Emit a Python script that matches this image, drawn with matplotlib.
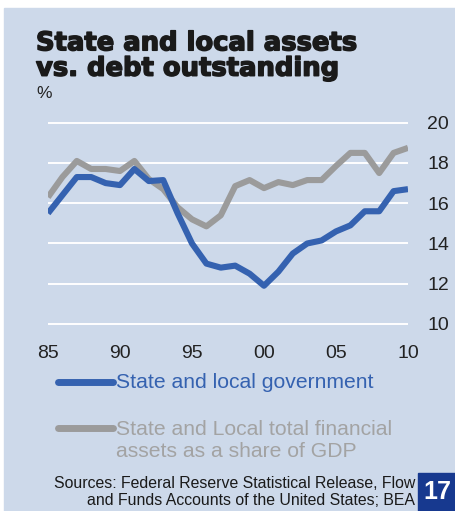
import matplotlib
matplotlib.use("Agg")
import matplotlib.pyplot as plt
import matplotlib.patheffects as pe
from matplotlib.patches import Rectangle
from matplotlib.lines import Line2D

# Annual values, 1985-2010, percent of GDP
years = list(range(1985, 2011))
debt = [15.5, 16.4, 17.3, 17.3, 17.0, 16.9, 17.7, 17.1, 17.15, 15.5,
        14.0, 13.0, 12.8, 12.9, 12.5, 11.9, 12.6, 13.5, 14.0, 14.15,
        14.6, 14.9, 15.6, 15.6, 16.6, 16.7]
assets = [16.3, 17.3, 18.1, 17.7, 17.7, 17.6, 18.1, 17.2, 16.7, 15.8,
          15.2, 14.85, 15.4, 16.85, 17.15, 16.75, 17.05, 16.9, 17.15, 17.15,
          17.85, 18.5, 18.5, 17.5, 18.5, 18.75]
x_ticks = [1985, 1990, 1995, 2000, 2005, 2010]
x_labels = ["85", "90", "95", "00", "05", "10"]
y_ticks = [10, 12, 14, 16, 18, 20]

BG = "#cdd9ea"
BLUE = "#3562b0"
GREY = "#9b9b9b"
W, H = 456, 511

plt.rcParams["font.family"] = ["Liberation Sans", "DejaVu Sans"]

fig = plt.figure(figsize=(W / 100, H / 100), dpi=100, facecolor="white")
fig.patches.append(Rectangle((4 / W, 0), 1 - 4 / W, 1 - 8 / H,
                             transform=fig.transFigure, color=BG, zorder=-5))

# axes box in pixels: x 48..408, y value 20 at 122.7px, 10 at 324px
ppu = (324 - 122.7) / 10
top_px = 122.7 - 0.3 * ppu
bot_px = 324 + 0.3 * ppu
ax = fig.add_axes([48 / W, 1 - bot_px / H, 360 / W, (bot_px - top_px) / H])
ax.set_facecolor("none")
ax.set_xlim(1985, 2010)
ax.set_ylim(9.7, 20.3)
for s in ax.spines.values():
    s.set_visible(False)

for y in y_ticks:
    ax.axhline(y, color="white", lw=1.4, zorder=1)

ax.plot(years, debt, color=BLUE, lw=4.4, solid_capstyle="butt", zorder=3)
ax.plot(years, assets, color=GREY, lw=4.4, solid_capstyle="butt", zorder=2)

ax.yaxis.tick_right()
ax.set_yticks(y_ticks)
ax.set_xticks(x_ticks)
ax.set_xticklabels(x_labels)
ax.tick_params(axis="both", length=0, labelsize=14, labelcolor="#222222")
ax.tick_params(axis="y", pad=14)
ax.tick_params(axis="x", pad=11)

# title (stroked to get a heavier face) and unit
fig.text(36 / W, 1 - 56 / H, "State and local assets\nvs. debt outstanding",
         fontsize=18.6, fontweight="bold", family="DejaVu Sans",
         color="#1a1a1a", va="center", ha="left", linespacing=0.97,
         path_effects=[pe.withStroke(linewidth=1.1, foreground="#1a1a1a")])
fig.text(36 / W, 1 - 94 / H, "%", fontsize=12.5, color="#222222", va="center")

# legend
fig.lines.append(Line2D([58 / W, 113 / W], [1 - 382 / H] * 2, color=BLUE,
                        lw=5, solid_capstyle="round", transform=fig.transFigure))
fig.text(116 / W, 1 - 382 / H, "State and local government", fontsize=15.2,
         color=BLUE, va="center")
fig.lines.append(Line2D([58 / W, 113 / W], [1 - 428 / H] * 2, color=GREY,
                        lw=5, solid_capstyle="round", transform=fig.transFigure))
fig.text(116 / W, 1 - 440.5 / H,
         "State and Local total financial\nassets as a share of GDP",
         fontsize=15.2, color="#a3a3a3", va="center", linespacing=1.18)

# sources and page badge
fig.text(415 / W, 1 - 492 / H,
         "Sources: Federal Reserve Statistical Release, Flow\n"
         "and Funds Accounts of the United States; BEA",
         fontsize=11.4, color="#1a1a1a", ha="right", va="center",
         multialignment="right", linespacing=1.13)
fig.patches.append(Rectangle((418 / W, 0), 38 / W, 38 / H,
                             transform=fig.transFigure, color="#17398f", zorder=1))
fig.text(437 / W, 1 - 492 / H, "17", fontsize=18, fontweight="bold",
         color="white", ha="center", va="center")

fig.savefig("out.png", dpi=100, facecolor=fig.get_facecolor())
